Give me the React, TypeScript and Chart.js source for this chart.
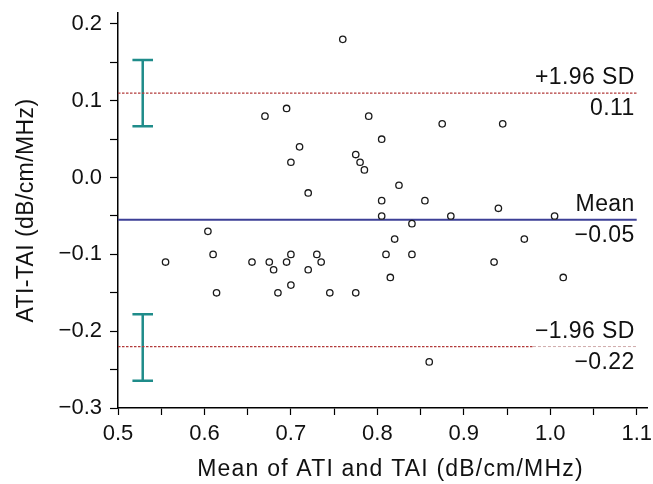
import React, { useEffect, useRef } from 'react';
import { Chart, registerables } from 'chart.js';

Chart.register(...registerables);

// ---- data ----
const meanX = [0.555, 0.604, 0.61, 0.614, 0.655, 0.67, 0.675, 0.68, 0.685, 0.695, 0.695, 0.70, 0.70, 0.70, 0.71, 0.72, 0.72, 0.73, 0.735, 0.745, 0.76, 0.775, 0.775, 0.78, 0.785, 0.79, 0.805, 0.805, 0.805, 0.81, 0.815, 0.82, 0.825, 0.84, 0.84, 0.855, 0.86, 0.875, 0.885, 0.935, 0.94, 0.945, 0.97, 1.005, 1.015];
const diffY = [-0.11, -0.07, -0.10, -0.15, -0.11, 0.08, -0.11, -0.12, -0.15, 0.09, -0.11, 0.02, -0.10, -0.14, 0.04, -0.02, -0.12, -0.10, -0.11, -0.15, 0.18, 0.03, -0.15, 0.02, 0.01, 0.08, 0.05, -0.03, -0.05, -0.10, -0.13, -0.08, -0.01, -0.06, -0.10, -0.03, -0.24, 0.07, -0.05, -0.11, -0.04, 0.07, -0.08, -0.05, -0.13];

const meanDiff = -0.055;
const upperLoA = 0.11;
const lowerLoA = -0.22;
const lineStartX = 0.5;
const lineEndX = 1.1;
const lowerSplitX = 0.98;

const ciX = 0.5286;
const ciCapHalf = 0.0119;
const upperCI = [0.067, 0.153];
const lowerCI = [-0.2645, -0.178];

const lineLabels = ['+1.96 SD', 'Mean', '\u22121.96 SD'];
const lineValues = ['0.11', '\u22120.05', '\u22120.22'];

const xTickValues = [0.5, 0.55, 0.6, 0.65, 0.7, 0.75, 0.8, 0.85, 0.9, 0.95, 1.0, 1.05, 1.1];
const xTickLabels = ['0.5', '', '0.6', '', '0.7', '', '0.8', '', '0.9', '', '1.0', '', '1.1'];
const yTickValues = [-0.3, -0.25, -0.2, -0.15, -0.1, -0.05, 0, 0.05, 0.1, 0.15, 0.2];
const yTickLabels = ['\u22120.3', '', '\u22120.2', '', '\u22120.1', '', '0.0', '', '0.1', '', '0.2'];

const xTitle = 'Mean of ATI and TAI (dB/cm/MHz)';
const yTitle = 'ATI-TAI (dB/cm/MHz)';

const FONT = "'Liberation Sans', Arial, Helvetica, sans-serif";

function ciPath(lo: number, hi: number) {
  return [
    { x: ciX - ciCapHalf, y: hi },
    { x: ciX + ciCapHalf, y: hi },
    { x: ciX, y: hi },
    { x: ciX, y: lo },
    { x: ciX - ciCapHalf, y: lo },
    { x: ciX + ciCapHalf, y: lo },
  ];
}

const textPlugin = {
  id: 'blandTexts',
  afterDraw(chart: any) {
    const { ctx, chartArea, scales } = chart;
    const xs = scales.x;
    const ys = scales.y;
    ctx.save();
    ctx.fillStyle = '#111';
    ctx.font = `23px ${FONT}`;
    ctx.textAlign = 'right';
    ctx.textBaseline = 'alphabetic';
    (ctx as any).letterSpacing = '0.4px';
    const xr = xs.getPixelForValue(lineEndX) - 2;
    [upperLoA, meanDiff, lowerLoA].forEach((v, i) => {
      const py = ys.getPixelForValue(v);
      ctx.fillText(lineLabels[i], xr, py - 9);
      ctx.fillText(lineValues[i], xr, py + 22);
    });
    ctx.textAlign = 'center';
    (ctx as any).letterSpacing = '1.2px';
    ctx.fillText(xTitle, (chartArea.left + chartArea.right) / 2 + 8, 476);
    (ctx as any).letterSpacing = '0.4px';
    ctx.translate(33, (chartArea.top + chartArea.bottom) / 2);
    ctx.rotate(-Math.PI / 2);
    ctx.fillText(yTitle, 0, 0);
    ctx.restore();
  },
};

export default function App() {
  const ref = useRef<HTMLCanvasElement | null>(null);
  useEffect(() => {
    if (!ref.current) return;
    const points = meanX.map((x, i) => ({ x, y: diffY[i] }));
    const lineDs = (data: any[], color: string, width: number, dash: number[]) => ({
      type: 'scatter' as const,
      data,
      showLine: true,
      borderColor: color,
      backgroundColor: color,
      borderWidth: width,
      borderDash: dash,
      pointRadius: 0,
      pointHoverRadius: 0,
      fill: false,
      tension: 0,
    });
    const chart = new Chart(ref.current, {
      type: 'scatter',
      data: {
        datasets: [
          {
            data: points,
            pointRadius: 3.2,
            pointBorderWidth: 1.3,
            borderColor: '#1a1a1a',
            backgroundColor: '#ffffff',
            pointBackgroundColor: '#ffffff',
            pointBorderColor: '#1a1a1a',
            showLine: false,
          } as any,
          lineDs([{ x: lineStartX, y: meanDiff }, { x: lineEndX, y: meanDiff }], '#3c3f96', 2, []),
          lineDs([{ x: lineStartX, y: upperLoA }, { x: lineEndX, y: upperLoA }], '#b23a3a', 1.3, [2.5, 1.5]),
          lineDs([{ x: lineStartX, y: lowerLoA }, { x: lowerSplitX, y: lowerLoA }], '#b23a3a', 1.3, [2.5, 1.5]),
          lineDs([{ x: lowerSplitX, y: lowerLoA }, { x: lineEndX, y: lowerLoA }], '#c9a0a0', 0.9, [3, 2]),
          lineDs(ciPath(upperCI[0], upperCI[1]), '#1f8c8a', 2.5, []),
          lineDs(ciPath(lowerCI[0], lowerCI[1]), '#1f8c8a', 2.5, []),
        ] as any,
      },
      options: {
        animation: false,
        responsive: false,
        events: [],
        layout: { padding: { top: 13, right: 6, left: 0, bottom: 0 } },
        plugins: { legend: { display: false }, tooltip: { enabled: false }, title: { display: false } },
        scales: {
          x: {
            type: 'linear',
            min: 0.5,
            max: 1.1119,
            afterBuildTicks: (s: any) => {
              s.ticks = xTickValues.map((v) => ({ value: v }));
            },
            afterFit: (s: any) => {
              s.height = 76;
              s.paddingLeft = 0;
              s.paddingRight = 0;
            },
            ticks: {
              autoSkip: false,
              maxRotation: 0,
              padding: 6,
              color: '#111',
              font: { family: FONT, size: 22 },
              callback: (v: any) => {
                const i = xTickValues.findIndex((t) => Math.abs(t - v) < 1e-6);
                return i >= 0 ? xTickLabels[i] : '';
              },
            },
            grid: { drawOnChartArea: false, drawTicks: true, tickLength: 7, tickColor: '#000', tickWidth: 1.2 },
            border: { display: true, color: '#000', width: 1.5 },
          },
          y: {
            type: 'linear',
            min: -0.3,
            max: 0.2143,
            afterBuildTicks: (s: any) => {
              s.ticks = yTickValues.map((v) => ({ value: v }));
            },
            afterFit: (s: any) => {
              s.width = 118;
              s.paddingTop = 0;
              s.paddingBottom = 0;
            },
            ticks: {
              autoSkip: false,
              padding: 8,
              color: '#111',
              font: { family: FONT, size: 22 },
              callback: (v: any) => {
                const i = yTickValues.findIndex((t) => Math.abs(t - v) < 1e-6);
                return i >= 0 ? yTickLabels[i] : '';
              },
            },
            grid: { drawOnChartArea: false, drawTicks: true, tickLength: 8, tickColor: '#000', tickWidth: 1.2 },
            border: { display: true, color: '#000', width: 1.5 },
          },
        },
      } as any,
      plugins: [textPlugin],
    });
    return () => chart.destroy();
  }, []);
  return (
    <canvas
      ref={ref}
      width={653}
      height={484}
      style={{ position: 'absolute', left: 0, top: 0, width: 653, height: 484, background: '#fff' }}
    />
  );
}
